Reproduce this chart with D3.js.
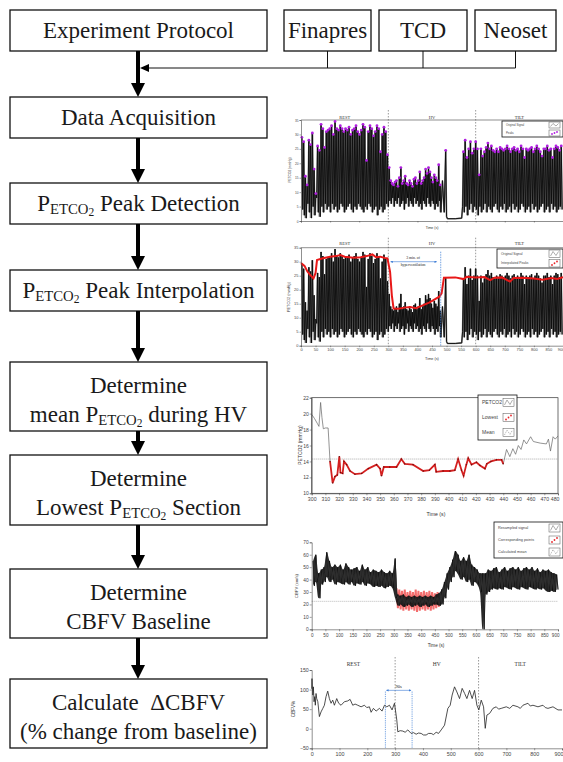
<!DOCTYPE html>
<html>
<head>
<meta charset="utf-8">
<script src="https://cdn.jsdelivr.net/npm/d3@7"></script>
<style>
  body { margin: 0; background: #fff; }
  svg { display: block; }
</style>
</head>
<body>
<script>
// ---- flowchart text ----
const sensorLabels = ['Finapres', 'TCD', 'Neoset'];
const stepLines = [
  ['Experiment Protocol'],
  ['Data Acquisition'],
  ['PETCO2 Peak Detection'],
  ['PETCO2 Peak Interpolation'],
  ['Determine', 'mean PETCO2 during HV'],
  ['Determine', 'Lowest PETCO2 Section'],
  ['Determine', 'CBFV Baseline'],
  ['Calculate \u00a0\u0394CBFV', '(% change from baseline)']
];
const phaseLabels = ['REST', 'HV', 'TILT'];
const phaseBounds = [0, 300, 600, 900];

// ---- raw PETCO2 signal (peaks / troughs per breath) ----
const restStart = 3, restStep = 6;
const restPeaks = [29, 27.5, 15.5, 12.5, 28, 26.5, 30.5, 18, 9.5, 26,
  24.5, 33.5, 32, 25.5, 31, 31.5, 32, 33, 30, 34.5,
  32, 31.5, 33, 32, 31, 32, 31.5, 32.5, 30, 31.5,
  32, 33, 31, 30, 31.5, 33.5, 32.5, 21, 31, 33,
  32, 29.5, 31, 33, 32, 24, 30, 32.5, 31, 23];
const restTroughs = [4, 2, 1, 6, 3, 1, 5, 2, 8, 3,
  1.5, 5, 3, 6, 4, 5, 3, 6, 4, 5,
  3, 4, 6, 5, 3, 4, 5, 6, 4, 3,
  5, 4, 6, 5, 4, 3, 5, 4, 6, 5,
  3, 4, 5, 2, 4, 5, 3, 4, 6, 5];
const hvStart = 303, hvStep = 5;
const hvPeaks = [18.5, 14, 13, 12.5, 13.5, 14, 12, 15, 18.5, 13,
  14, 15.5, 13, 12.5, 14, 13, 12, 14.5, 15, 13,
  14, 17, 13, 14, 15, 18, 16.5, 18.5, 17, 15,
  13.5, 16, 15, 14, 19.5, 12.5];
const hvTroughs = [7, 6, 8, 5, 7, 6, 8, 5, 6, 7,
  4, 6, 8, 5, 7, 6, 5, 8, 6, 7,
  5, 6, 4, 7, 6, 5, 8, 6, 5, 7,
  6, 4, 6, 5, 7, 3];
const artifactTime = [481, 486, 492, 497, 500, 503, 530, 552, 555];
const artifactValue = [4, 14, 3, 24.5, 1.5, 0.8, 0.8, 1, 5];
const tiltStart = 558, tiltStep = 6;
const tiltPeaks = [24, 28, 22, 25, 27.5, 23.5, 25, 27.5, 25, 16,
  25, 22.5, 24, 25.5, 27, 25, 26, 24.5, 24, 25,
  24, 25.5, 25, 24.5, 25, 26, 25, 24, 25, 25.5,
  24.5, 25, 24, 26, 25, 22, 25, 24.5, 25, 25.5,
  24, 25, 26, 25, 24, 22.5, 25, 25, 26, 24.5,
  25, 22, 25, 26, 25.5, 24.5, 26];
const tiltTroughs = [3, 5, 2, 4, 6, 3, 5, 4, 2, 5,
  3, 4, 6, 3, 5, 4, 3, 5, 6, 4,
  3, 5, 4, 6, 3, 4, 5, 3, 6, 4,
  5, 3, 4, 6, 5, 3, 4, 5, 3, 6,
  4, 5, 3, 4, 5, 6, 3, 4, 5, 3,
  6, 4, 5, 3, 4, 5, 4];

// ---- interpolated peaks (t, mmHg) ----
const interpPeaks = [[0, 29.5], [12, 28.5], [22, 26.5], [32, 25.2], [43, 24], [50, 26], [55, 30.6],
  [75, 31.2], [100, 31.8], [120, 32], [135, 32.4], [150, 31.8], [180, 31.4], [205, 31.6],
  [226, 32], [245, 32.6], [258, 31.6], [272, 31.8], [288, 31.3], [297, 31.2],
  [306, 26.4], [312, 18], [318, 13.3], [335, 13.2], [355, 13.6], [375, 13.8], [395, 13.4],
  [420, 14.5], [440, 15.4], [455, 16.3], [475, 17.5], [483, 18.7], [491, 24.3],
  [530, 24.4], [558, 23.8], [569, 24.6], [600, 24.4], [630, 24.5], [650, 23.4],
  [665, 24.3], [690, 24.4], [718, 22.9], [730, 24.2], [760, 24.3], [800, 24],
  [830, 23.6], [860, 24.2], [880, 23.8], [900, 24.5]];

// ---- HV zoom: PETCO2 (t, mmHg) ----
const petco2Before = [[300, 19.9], [302, 19.4], [304, 18.8], [305.3, 18.4], [306.5, 21.4],
  [307.5, 19.5], [308.5, 18.1], [310, 18.2], [312, 18.2], [313.4, 14]];
const petco2After = [[440, 13.7], [442.4, 15.5], [444.8, 14.6], [447, 15.6], [449, 14.9],
  [451, 16], [453, 15.5], [455, 16.7], [457, 16.2], [460, 17.1], [462, 16.5],
  [467, 16.3], [471.5, 16.2], [473, 16.8], [474.5, 15.3], [476.4, 17.1], [478, 16.8], [480, 17.2]];
const lowestSection = [[313.4, 14], [315.3, 11.3], [317, 12.1], [318.7, 12.3], [320.2, 14.6],
  [321, 12.6], [322.6, 12.5], [323.6, 14], [325.5, 13.6], [328, 12.8], [331.6, 12.4],
  [336.5, 12.5], [341.4, 13.1], [347.4, 13.6], [350, 13.1], [351, 12.2], [352.7, 13.3],
  [357, 13.3], [362, 13.3], [365.5, 14.3], [368, 13.7], [374, 13.6], [381.5, 12.8],
  [386, 12.9], [390, 13.6], [391, 12.7], [396, 12.8], [401, 12.8], [404.6, 12.9],
  [407, 14.3], [409.5, 12.9], [411, 12.2], [413, 13.6], [414.4, 14.4], [416.8, 13.6],
  [420.4, 13.9], [423, 13.5], [426.6, 13.1], [428, 13.7], [431, 14], [435, 14.2],
  [438.8, 14.2], [440, 13.7]];
const petco2Mean = 14.3;

// ---- CBFV (cm/s), envelope every 10 s ----
const cbfvStart = 5, cbfvStep = 10;
const cbfvHigh = [55, 60, 45, 48, 50, 62, 55, 50, 52, 50,
  52, 48, 53, 50, 48, 49, 50, 47, 52, 48,
  50, 46, 48, 47, 46, 48, 46, 45, 47, 45,
  57,
  28, 27, 28, 26, 27, 26, 27, 26, 27, 26, 27, 26, 27, 26, 28,
  29, 32, 38, 45, 50, 56, 63, 60, 55, 58, 55, 60, 52, 50, 48, 45, 45,
  45, 48, 47, 49, 50, 46, 48, 50, 47, 49,
  50, 48, 50, 47, 49, 50, 48, 50, 47, 49,
  46, 48, 47, 48, 46, 45, 44];
const cbfvLow = [35, 38, 25, 36, 38, 42, 38, 40, 36, 38,
  37, 36, 38, 36, 38, 35, 37, 36, 38, 35,
  37, 36, 34, 35, 34, 35, 33, 34, 35, 33,
  25,
  19, 20, 18, 19, 20, 18, 19, 20, 18, 19, 20, 18, 19, 20, 20,
  19, 20, 25, 32, 38, 42, 47, 44, 40, 42, 38, 40, 35, 38, 36, 30, 0,
  28, 30, 32, 33, 32, 33, 32, 34, 33, 32,
  34, 33, 32, 34, 33, 32, 34, 33, 32, 33,
  32, 33, 31, 30, 31, 30, 32];
const corrStart = 310, corrStep = 10;
const corrHigh = [33, 32, 31, 32, 30, 31, 30, 32, 31, 30, 31, 30, 31, 30, 29, 30];
const corrLow = [17, 16, 15, 16, 15, 16, 15, 14, 15, 16, 15, 16, 15, 16, 17, 18];
const cbfvMean = 22.5;

// ---- delta CBFV (t, %) ----
const deltaCbfv = [[0, 102], [1, 128], [4, 86], [6, 107], [8.4, 69], [11, 82], [13, 60],
  [15.6, 90], [18, 77], [22, 69], [27.6, 31], [33.6, 43], [40, 52], [45.6, 60], [51.6, 82],
  [57.6, 96], [63.6, 77], [69.6, 65], [75.6, 73], [81.6, 60], [90, 77], [97, 65],
  [105.6, 60], [117.6, 69], [129.6, 71], [138, 75], [147.6, 60], [156, 63], [165.6, 60],
  [177.6, 56], [189.6, 60], [198, 54], [207.6, 56], [213.6, 42], [222, 52], [231.6, 45],
  [243.6, 52], [253, 45], [261.6, 60], [270, 56], [279.6, 60], [289, 48], [297.6, 65],
  [301, 48], [306, 22], [309.6, -8], [318, -5], [327.6, -6], [336, -9], [345.6, -3],
  [357.6, -12], [366, -10], [375.6, -14], [384, -11], [393.6, -12], [402, -16],
  [411.6, -16], [420, -12], [429.6, -12], [438, -15], [447.6, -9], [456, -12],
  [465.6, -3], [477.6, 9], [489.6, 52], [498, 60], [505, 86], [513.6, 107], [522, 94],
  [531.6, 77], [541, 103], [550, 90], [558, 77], [567.6, 98], [577, 77], [585.6, 98],
  [594, 60], [601, 48], [609.6, 73], [618, 56], [624, 1], [630, 35], [639.6, 39],
  [651.6, 52], [663.6, 56], [672, 50], [681.6, 52], [699.6, 56], [712, 52], [723.6, 60],
  [741.6, 56], [750, 52], [759.6, 60], [777.6, 65], [786, 58], [795.6, 60], [813.6, 56],
  [831.6, 60], [840, 54], [849.6, 52], [867.6, 56], [885.6, 48], [900, 48]];
const window90s = [265, 361];

// =====================================================
const W = 563, H = 762;
const serif = "'Liberation Serif', 'Times New Roman', serif";
const sans = "'Liberation Sans', Arial, sans-serif";

const svg = d3.select('body').append('svg')
  .attr('width', W).attr('height', H)
  .attr('viewBox', `0 0 ${W} ${H}`);

svg.append('defs').append('marker')
  .attr('id', 'blueHead').attr('viewBox', '0 0 10 10')
  .attr('refX', 9).attr('refY', 5)
  .attr('markerWidth', 4).attr('markerHeight', 4)
  .attr('orient', 'auto-start-reverse')
  .append('path').attr('d', 'M0,0 L10,5 L0,10 Z').attr('fill', '#3a7bd5');

// ---------- flowchart ----------
const boxX = 10, boxW = 257, arrowX = 138;
const stepTop = [10, 97, 183, 270, 362, 455, 569, 679];
const stepH = [41, 41, 41, 41, 69, 70, 69, 69];
const fontMain = 23;

function richText(g, str, x, y, size) {
  const t = g.append('text')
    .attr('x', x).attr('y', y)
    .attr('text-anchor', 'middle')
    .attr('font-family', serif)
    .attr('font-size', size)
    .attr('fill', '#1a1a1a')
    .style('white-space', 'pre');
  const parts = str.split('PETCO2');
  let pendingDy = 0;
  parts.forEach((p, i) => {
    if (i > 0) {
      t.append('tspan').attr('dy', pendingDy).text('P');
      t.append('tspan').attr('font-size', size * 0.64).attr('dy', 3).text('ETCO');
      t.append('tspan').attr('font-size', size * 0.5).attr('dy', 1.5).text('2');
      pendingDy = -4.5;
    }
    if (p) {
      t.append('tspan').attr('dy', pendingDy).text(p);
      pendingDy = 0;
    }
  });
}

const flow = svg.append('g');
stepLines.forEach((lines, i) => {
  flow.append('rect')
    .attr('x', boxX).attr('y', stepTop[i])
    .attr('width', boxW).attr('height', stepH[i])
    .attr('fill', '#fff').attr('stroke', '#111').attr('stroke-width', 1.3);
  if (lines.length === 1) {
    richText(flow, lines[0], boxX + boxW / 2, stepTop[i] + 28, fontMain);
  } else {
    richText(flow, lines[0], boxX + boxW / 2, stepTop[i] + 31, fontMain);
    richText(flow, lines[1], boxX + boxW / 2, stepTop[i] + 60, fontMain);
  }
});

// thick arrows between steps
function thickArrow(y0, y1) {
  flow.append('line')
    .attr('x1', arrowX).attr('x2', arrowX)
    .attr('y1', y0).attr('y2', y1 - 12)
    .attr('stroke', '#000').attr('stroke-width', 4);
  flow.append('path')
    .attr('d', `M${arrowX - 7},${y1 - 14} L${arrowX + 7},${y1 - 14} L${arrowX},${y1} Z`)
    .attr('fill', '#000');
}
for (let i = 0; i < stepTop.length - 1; i++) {
  thickArrow(stepTop[i] + stepH[i], stepTop[i + 1]);
}

// sensor boxes
const sensorX = [284, 379, 475], sensorW = [87, 88, 81];
const busY = 68;
sensorLabels.forEach((s, i) => {
  flow.append('rect')
    .attr('x', sensorX[i]).attr('y', 10)
    .attr('width', sensorW[i]).attr('height', 41)
    .attr('fill', '#fff').attr('stroke', '#111').attr('stroke-width', 1.3);
  richText(flow, s, sensorX[i] + sensorW[i] / 2, 38, fontMain);
  const cx = sensorX[i] + sensorW[i] / 2;
  flow.append('line').attr('x1', cx).attr('x2', cx).attr('y1', 51).attr('y2', busY)
    .attr('stroke', '#111').attr('stroke-width', 1);
});
const lastStub = sensorX[2] + sensorW[2] / 2;
flow.append('line').attr('x1', lastStub).attr('x2', arrowX + 10).attr('y1', busY).attr('y2', busY)
  .attr('stroke', '#111').attr('stroke-width', 1);
flow.append('path')
  .attr('d', `M${arrowX + 2},${busY} L${arrowX + 11},${busY - 4} L${arrowX + 11},${busY + 4} Z`)
  .attr('fill', '#000');

// ---------- helpers for the small charts ----------
function zigzag(start, step, highs, lows) {
  const pts = [];
  highs.forEach((h, i) => {
    pts.push([start + i * step, h]);
    pts.push([start + i * step + step / 2, lows[i]]);
  });
  return pts;
}

function styleAxis(g, fs) {
  g.select('.domain').attr('stroke', '#444').attr('stroke-width', 0.6);
  g.selectAll('.tick line').attr('stroke', '#444').attr('stroke-width', 0.5);
  g.selectAll('.tick text').attr('font-size', fs).attr('font-family', sans).attr('fill', '#444');
  // keep the last label inside the picture
  g.selectAll('.tick:last-of-type text').each(function () {
    const tr = this.parentNode.getAttribute('transform') || '';
    const m = /translate\(([-\d.]+)/.exec(tr);
    if (m && +m[1] > W - 6) d3.select(this).attr('text-anchor', 'end').attr('dx', 1);
  });
}

function axisLabel(x, y, text, fs, rotate) {
  svg.append('text')
    .attr('transform', `translate(${x},${y})` + (rotate ? ' rotate(-90)' : ''))
    .attr('text-anchor', 'middle')
    .attr('font-family', sans).attr('font-size', fs).attr('fill', '#333')
    .text(text);
}

function phaseMarks(x, yTop, yBottom, labelY, fs) {
  [phaseBounds[1], phaseBounds[2]].forEach(b => {
    svg.append('line')
      .attr('x1', x(b)).attr('x2', x(b))
      .attr('y1', yTop).attr('y2', yBottom)
      .attr('stroke', '#555').attr('stroke-width', 0.6)
      .attr('stroke-dasharray', '1.5,1.5');
  });
  phaseLabels.forEach((p, i) => {
    svg.append('text')
      .attr('x', x((phaseBounds[i] + phaseBounds[i + 1]) / 2)).attr('y', labelY)
      .attr('text-anchor', 'middle')
      .attr('font-family', serif).attr('font-size', fs).attr('fill', '#333')
      .text(p);
  });
}

function legend(x, y, w, h, names, icons, fs) {
  const g = svg.append('g');
  g.append('rect').attr('x', x).attr('y', y).attr('width', w).attr('height', h)
    .attr('fill', '#fff').attr('stroke', '#111').attr('stroke-width', 0.8);
  const rowH = h / names.length;
  names.forEach((n, i) => {
    const cy = y + rowH * (i + 0.5);
    g.append('text').attr('x', x + 4).attr('y', cy).attr('dy', '0.35em')
      .attr('font-family', sans).attr('font-size', fs).attr('fill', '#444').text(n);
    const bw = 11, bh = Math.min(rowH - 2, 8);
    const bx = x + w - bw - 3, by = cy - bh / 2;
    g.append('rect').attr('x', bx).attr('y', by).attr('width', bw).attr('height', bh)
      .attr('fill', '#fff').attr('stroke', '#555').attr('stroke-width', 0.5);
    const col = icons[i] === 'dots' ? '#b01ee0' : icons[i] === 'red' ? '#e8262a' : '#777';
    if (icons[i] === 'line' || icons[i] === 'dash') {
      g.append('path')
        .attr('d', `M${bx + 1.5},${by + bh - 1.5} L${bx + 4},${by + 1.5} L${bx + 7},${by + bh - 2} L${bx + 9.5},${by + 1.5}`)
        .attr('fill', 'none').attr('stroke', col).attr('stroke-width', 0.6)
        .attr('stroke-dasharray', icons[i] === 'dash' ? '1,1' : null);
    } else {
      [[bx + 3, by + bh - 2], [bx + 8, by + 2], [bx + 5.5, by + bh / 2]].forEach(p => {
        g.append('circle').attr('cx', p[0]).attr('cy', p[1]).attr('r', 0.9).attr('fill', col);
      });
    }
  });
}

// raw PETCO2 path (shared by charts 1 and 2)
const rawSignal = [].concat(
  zigzag(restStart, restStep, restPeaks, restTroughs),
  zigzag(hvStart, hvStep, hvPeaks, hvTroughs),
  artifactTime.map((t, i) => [t, artifactValue[i]]),
  zigzag(tiltStart, tiltStep, tiltPeaks, tiltTroughs)
);
const peakPoints = [].concat(
  restPeaks.map((v, i) => [restStart + i * restStep, v]),
  hvPeaks.map((v, i) => [hvStart + i * hvStep, v]),
  [[artifactTime[3], artifactValue[3]]],
  tiltPeaks.map((v, i) => [tiltStart + i * tiltStep, v])
);
// breath-by-breath body (peak over trough) for the dense fill
const breathBody = [].concat(
  restPeaks.map((v, i) => [restStart + i * restStep, v, restTroughs[i]]),
  hvPeaks.map((v, i) => [hvStart + i * hvStep, v, hvTroughs[i]]),
  [[null]],
  tiltPeaks.map((v, i) => [tiltStart + i * tiltStep, v, tiltTroughs[i]])
);

function drawRaw(x, y, line) {
  const body = d3.area()
    .defined(d => d[0] !== null)
    .x(d => x(d[0])).y0(d => y(d[2])).y1(d => y(d[1]))
    .curve(d3.curveStep);
  svg.append('path').datum(breathBody).attr('d', body)
    .attr('fill', '#3c3c3c').attr('opacity', 0.55);
  svg.append('path').datum(rawSignal).attr('d', line)
    .attr('fill', 'none').attr('stroke', '#7a7a7a').attr('stroke-width', 1.6)
    .attr('stroke-linejoin', 'bevel');
  svg.append('path').datum(rawSignal).attr('d', line)
    .attr('fill', 'none').attr('stroke', '#0a0a0a').attr('stroke-width', 0.9)
    .attr('stroke-linejoin', 'bevel');
}

// ---------- chart 1 : peak detection ----------
{
  const x = d3.scaleLinear().domain([0, 900]).range([301, 563]);
  const y = d3.scaleLinear().domain([0, 35]).range([221, 120]);
  const line = d3.line().x(d => x(d[0])).y(d => y(d[1]));
  svg.append('line').attr('x1', x(0)).attr('x2', x(900)).attr('y1', y(35)).attr('y2', y(35))
    .attr('stroke', '#444').attr('stroke-width', 0.6);
  phaseMarks(x, y(35) - 10, y(0), y(35) - 1, 4.5);
  drawRaw(x, y, line);
  svg.append('g').selectAll('circle').data(peakPoints).join('circle')
    .attr('cx', d => x(d[0])).attr('cy', d => y(d[1])).attr('r', 1.4)
    .attr('fill', '#b01ee0');
  const ya = svg.append('g').attr('transform', `translate(${x(0)},0)`)
    .call(d3.axisLeft(y).tickValues(d3.range(0, 36, 5)).tickSize(1.5).tickPadding(1));
  styleAxis(ya, 3.2);
  const xa = svg.append('g').attr('transform', `translate(0,${y(0)})`)
    .call(d3.axisBottom(x).tickValues(d3.range(0, 901, 100)).tickSize(1.5).tickFormat(''));
  styleAxis(xa, 3.2);
  axisLabel(291, 170, 'PETCO2 (mmHg)', 3.2, true);
  axisLabel(432, 229, 'Time (s)', 3.5, false);
  legend(502, 121, 61, 16, ['Original Signal', 'Peaks'], ['line', 'dots'], 2.8);
}

// ---------- chart 2 : peak interpolation ----------
{
  const x = d3.scaleLinear().domain([0, 900]).range([301, 563]);
  const y = d3.scaleLinear().domain([0, 35]).range([345.7, 247.7]);
  const line = d3.line().x(d => x(d[0])).y(d => y(d[1]));
  svg.append('line').attr('x1', x(0)).attr('x2', x(900)).attr('y1', y(35)).attr('y2', y(35))
    .attr('stroke', '#444').attr('stroke-width', 0.6);
  phaseMarks(x, y(35) - 10, y(0), y(35) - 3, 4.5);
  drawRaw(x, y, line);
  svg.append('path').datum(interpPeaks).attr('d', line)
    .attr('fill', 'none').attr('stroke', '#e81818').attr('stroke-width', 2);
  // 3 min hyperventilation annotation
  svg.append('line').attr('x1', x(480)).attr('x2', x(480)).attr('y1', y(35) + 4).attr('y2', y(0))
    .attr('stroke', '#3a7bd5').attr('stroke-width', 0.7).attr('stroke-dasharray', '1.5,1');
  svg.append('line').attr('x1', x(308)).attr('x2', x(466)).attr('y1', y(30)).attr('y2', y(30))
    .attr('stroke', '#3a7bd5').attr('stroke-width', 0.6)
    .attr('marker-start', 'url(#blueHead)').attr('marker-end', 'url(#blueHead)');
  ['3 min. of', 'hyperventilation'].forEach((t, i) => {
    svg.append('text').attr('x', x(385)).attr('y', y(30.8) + i * 6.5)
      .attr('text-anchor', 'middle').attr('font-family', serif).attr('font-size', 3.8)
      .attr('fill', '#222').text(t);
  });
  const ya = svg.append('g').attr('transform', `translate(${x(0)},0)`)
    .call(d3.axisLeft(y).tickValues(d3.range(0, 36, 5)).tickSize(1.5).tickPadding(1));
  styleAxis(ya, 4);
  const xa = svg.append('g').attr('transform', `translate(0,${y(0)})`)
    .call(d3.axisBottom(x).tickValues(d3.range(0, 901, 50)).tickSize(1.5).tickPadding(1));
  styleAxis(xa, 4);
  axisLabel(290, 297, 'PETCO2 (mmHg)', 3.8, true);
  axisLabel(432, 360, 'Time (s)', 3.8, false);
  legend(497, 249, 66, 19, ['Original Signal', 'Interpolated Peaks'], ['line', 'red'], 3.3);
}

// ---------- chart 3 : mean PETCO2 during HV ----------
{
  const x = d3.scaleLinear().domain([300, 480]).range([311.7, 558]);
  const y = d3.scaleLinear().domain([10, 22]).range([493.3, 397.7]);
  const line = d3.line().x(d => x(d[0])).y(d => y(d[1]));
  svg.append('rect').attr('x', x(300)).attr('y', y(22))
    .attr('width', x(480) - x(300)).attr('height', y(10) - y(22))
    .attr('fill', 'none').attr('stroke', '#333').attr('stroke-width', 0.7);
  svg.append('line').attr('x1', x(300)).attr('x2', x(480)).attr('y1', y(petco2Mean)).attr('y2', y(petco2Mean))
    .attr('stroke', '#888').attr('stroke-width', 0.7).attr('stroke-dasharray', '1,1');
  [petco2Before, petco2After].forEach(seg => {
    svg.append('path').datum(seg).attr('d', line)
      .attr('fill', 'none').attr('stroke', '#666').attr('stroke-width', 0.7);
  });
  svg.append('path').datum(lowestSection).attr('d', line)
    .attr('fill', 'none').attr('stroke', '#d42020').attr('stroke-width', 1.8);
  svg.append('g').selectAll('rect').data(lowestSection).join('rect')
    .attr('x', d => x(d[0]) - 0.6).attr('y', d => y(d[1]) - 0.6)
    .attr('width', 1.2).attr('height', 1.2).attr('fill', '#6a0c0c');
  const ya = svg.append('g').attr('transform', `translate(${x(300)},0)`)
    .call(d3.axisLeft(y).tickValues(d3.range(10, 23, 2)).tickSize(2).tickPadding(1));
  styleAxis(ya, 5);
  const xa = svg.append('g').attr('transform', `translate(0,${y(10)})`)
    .call(d3.axisBottom(x).tickValues(d3.range(300, 481, 10)).tickSize(2).tickPadding(2));
  styleAxis(xa, 5.2);
  axisLabel(302, 445, 'PETCO2 (mmHg)', 5, true);
  axisLabel(436, 516, 'Time (s)', 5.2, false);
  legend(478, 395, 39, 45, ['PETCO2', 'Lowest', 'Mean'], ['line', 'red', 'dash'], 5);
}

// ---------- chart 4 : CBFV baseline ----------
{
  const x = d3.scaleLinear().domain([0, 900]).range([311.7, 558]);
  const y = d3.scaleLinear().domain([0, 70]).range([629.3, 542.3]);
  const line = d3.line().x(d => x(d[0])).y(d => y(d[1]));
  svg.append('line').attr('x1', x(0)).attr('x2', x(900)).attr('y1', y(cbfvMean)).attr('y2', y(cbfvMean))
    .attr('stroke', '#888').attr('stroke-width', 0.6).attr('stroke-dasharray', '1,1');
  const corr = zigzag(corrStart, corrStep, corrHigh, corrLow);
  svg.append('path').datum(corr).attr('d', line)
    .attr('fill', 'none').attr('stroke', '#f04848').attr('stroke-width', 2).attr('opacity', 0.8);
  // dense body of the signal, then the spiky trace over it
  const band = d3.area()
    .x((d, i) => x(cbfvStart + i * cbfvStep))
    .y0((d, i) => y(cbfvLow[i]))
    .y1(d => y(d))
    .curve(d3.curveMonotoneX);
  svg.append('path').datum(cbfvHigh).attr('d', band)
    .attr('fill', '#111').attr('opacity', 0.9);
  const cbfv = zigzag(cbfvStart, cbfvStep, cbfvHigh, cbfvLow);
  svg.append('path').datum(cbfv).attr('d', line)
    .attr('fill', 'none').attr('stroke', '#555').attr('stroke-width', 1.1);
  svg.append('path').datum(cbfv).attr('d', line)
    .attr('fill', 'none').attr('stroke', '#000').attr('stroke-width', 0.6);
  const ya = svg.append('g').attr('transform', `translate(${x(0)},0)`)
    .call(d3.axisLeft(y).tickValues(d3.range(0, 71, 10)).tickSize(2).tickPadding(1));
  styleAxis(ya, 4.8);
  const xa = svg.append('g').attr('transform', `translate(0,${y(0)})`)
    .call(d3.axisBottom(x).tickValues(d3.range(0, 901, 50)).tickSize(2).tickPadding(2));
  styleAxis(xa, 4.6);
  axisLabel(298, 586, 'CBFV (cm/s)', 4.2, true);
  axisLabel(436, 647, 'Time (s)', 4.6, false);
  legend(494, 522, 69, 36, ['Resampled signal', 'Corresponding points', 'Calculated mean'], ['line', 'red', 'dash'], 3.8);
}

// ---------- chart 5 : delta CBFV ----------
{
  const x = d3.scaleLinear().domain([0, 900]).range([311.7, 562]);
  const y = d3.scaleLinear().domain([-50, 150]).range([748.3, 670]);
  const line = d3.line().x(d => x(d[0])).y(d => y(d[1]));
  phaseMarks(x, 657, y(-50), 665.5, 5.5);
  window90s.forEach(t => {
    svg.append('line').attr('x1', x(t)).attr('x2', x(t)).attr('y1', y(95)).attr('y2', y(-50))
      .attr('stroke', '#3a7bd5').attr('stroke-width', 0.7).attr('stroke-dasharray', '1.2,1');
  });
  svg.append('line').attr('x1', x(window90s[0]) + 1).attr('x2', x(window90s[1]) - 1)
    .attr('y1', y(98)).attr('y2', y(98))
    .attr('stroke', '#3a7bd5').attr('stroke-width', 0.6)
    .attr('marker-start', 'url(#blueHead)').attr('marker-end', 'url(#blueHead)');
  svg.append('text').attr('x', x((window90s[0] + window90s[1]) / 2)).attr('y', y(104))
    .attr('text-anchor', 'middle').attr('font-family', serif).attr('font-size', 4.5)
    .attr('fill', '#222').text('90s');
  svg.append('path').datum(deltaCbfv).attr('d', line)
    .attr('fill', 'none').attr('stroke', '#222').attr('stroke-width', 0.8);
  const ya = svg.append('g').attr('transform', `translate(${x(0)},0)`)
    .call(d3.axisLeft(y).tickValues(d3.range(-50, 151, 50)).tickSize(2).tickPadding(1));
  styleAxis(ya, 5.2);
  const xa = svg.append('g').attr('transform', `translate(0,${y(-50)})`)
    .call(d3.axisBottom(x).tickValues(d3.range(0, 901, 100)).tickSize(2).tickPadding(1.5));
  styleAxis(xa, 5.4);
  axisLabel(295, 709, 'CBFV%', 4.6, true);
}
</script>
</body>
</html>
